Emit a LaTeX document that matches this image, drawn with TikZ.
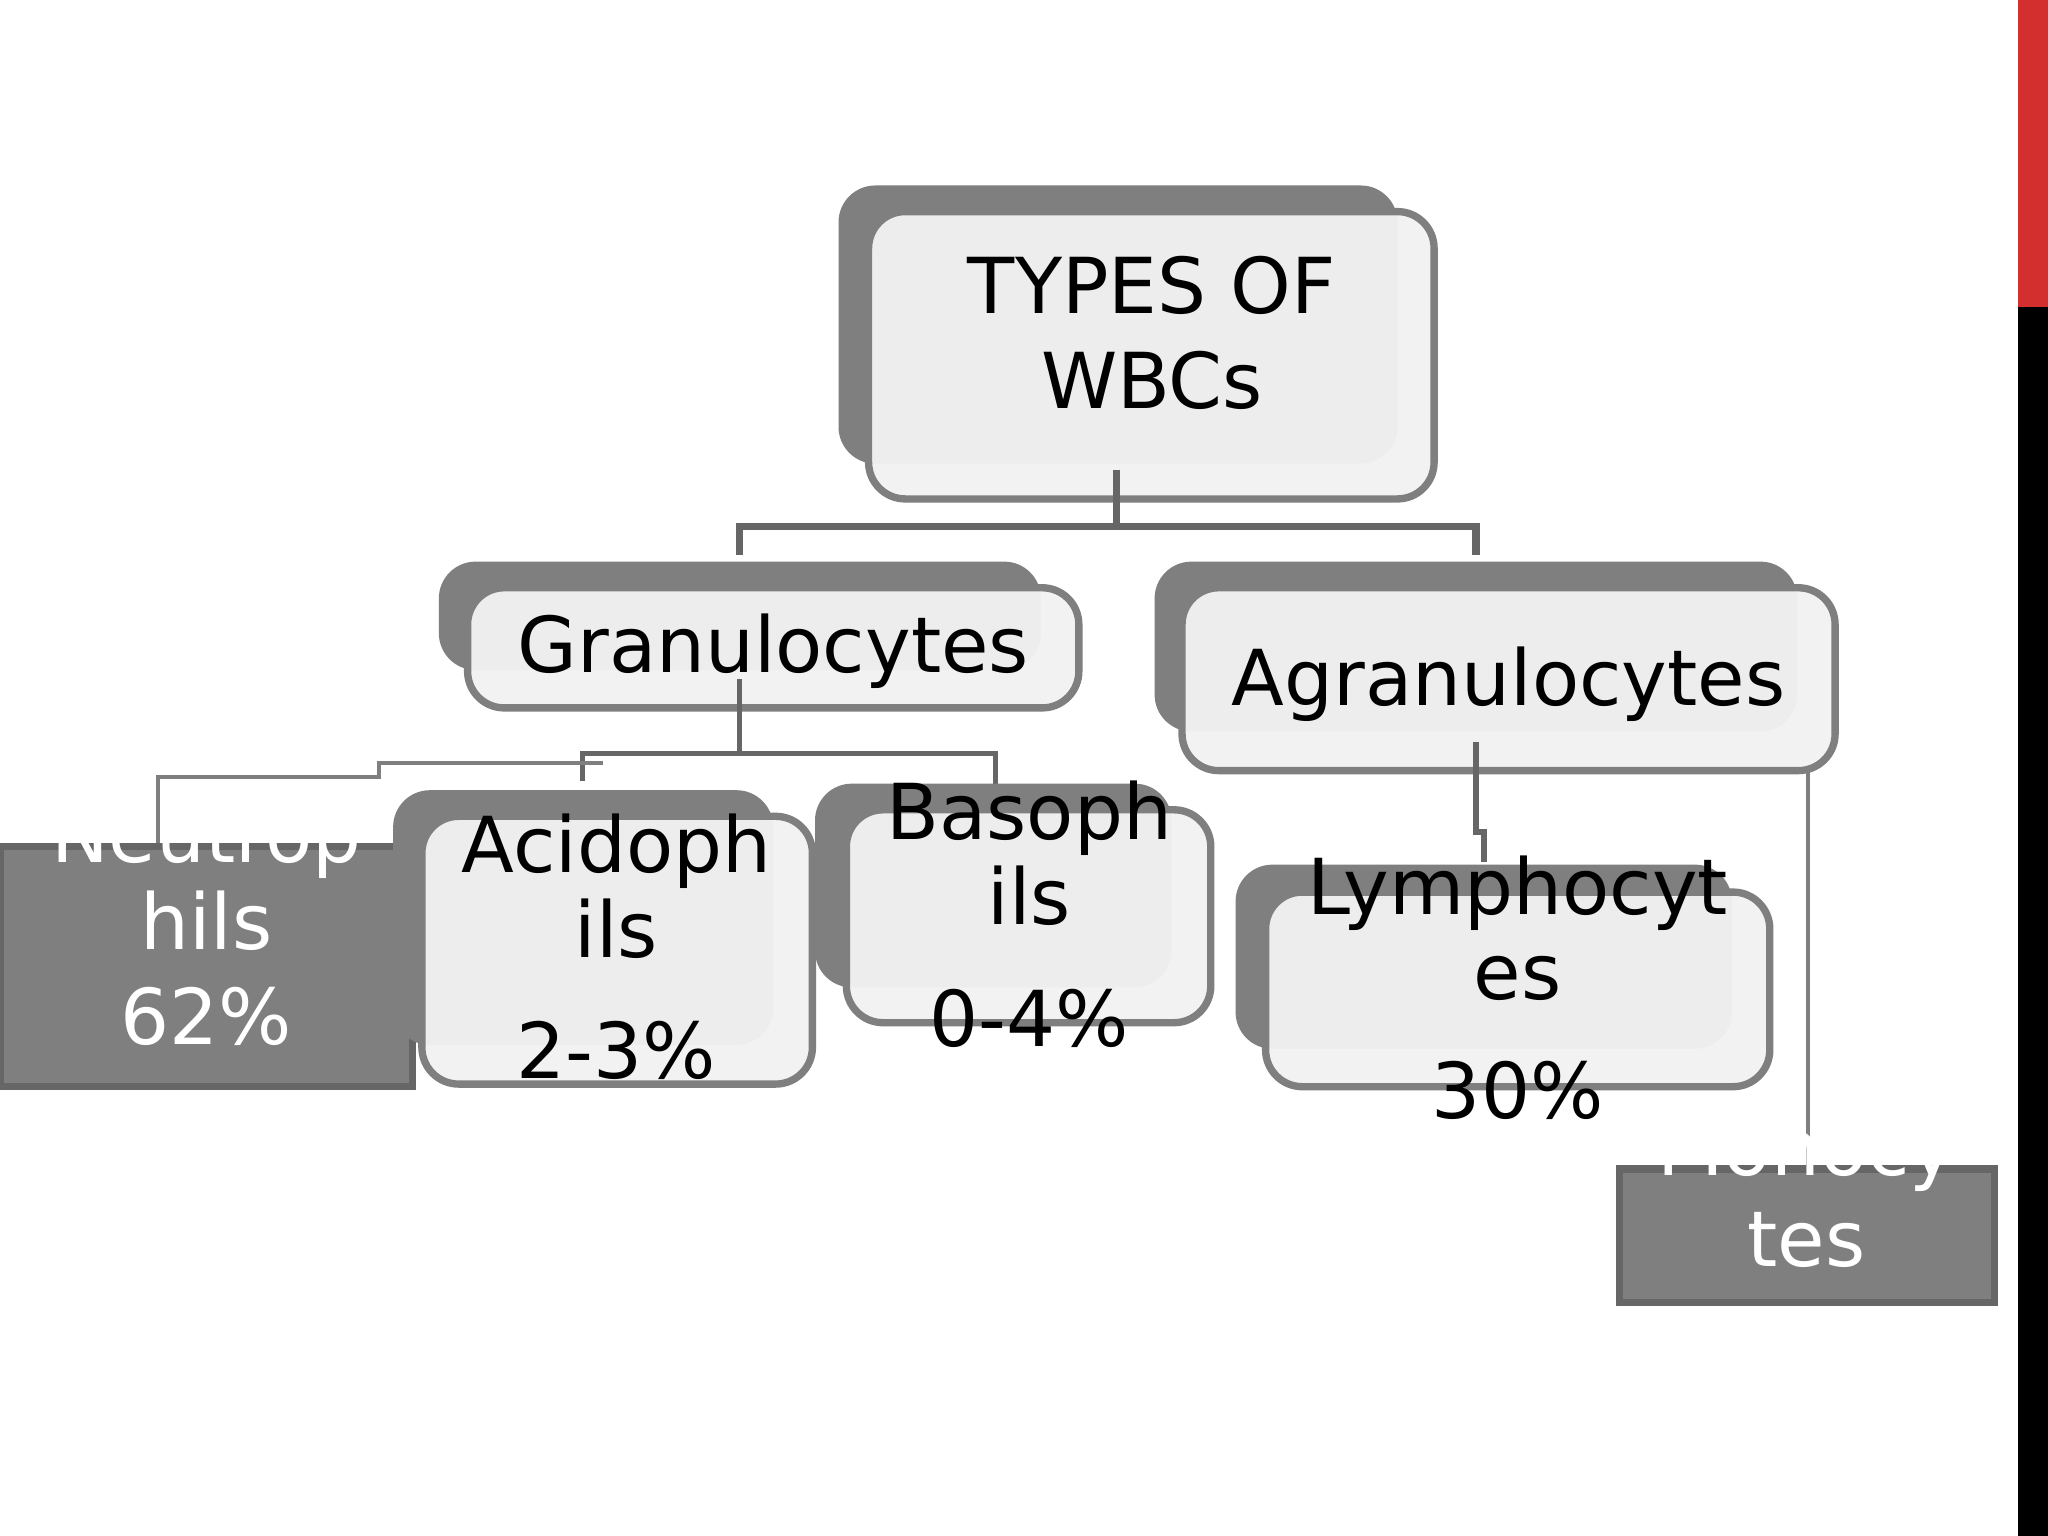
\documentclass[tikz,border=0pt]{standalone}
\usepackage{fontspec}
\setmainfont{DejaVu Sans}
\begin{document}
\begin{tikzpicture}[x=0.01cm,y=-0.01cm,
  shadowbox/.style={fill=gray50,draw=none,rounded corners=8pt},
  frontbox/.style={fill=boxfill,draw=gray50,line width=1.6pt,rounded corners=8pt},
  darkbox/.style={fill=gray50,draw=gray40,line width=1.6pt},
  conn/.style={draw=gray40,line width=1.6pt},
  thin/.style={draw=gray50,line width=0.8pt},
  lbl/.style={font=\fontsize{16.8}{19}\selectfont,inner sep=0pt,anchor=base},
  wlbl/.style={lbl,text=white}]
\definecolor{gray50}{HTML}{7F7F7F}
\definecolor{gray40}{HTML}{666666}
\definecolor{boxfill}{HTML}{F2F2F2}
\definecolor{redbar}{HTML}{D32F2F}
\useasboundingbox (0,0) rectangle (1568,1176);
\fill[white] (0,0) rectangle (1568,1176);
\fill[redbar] (1545,0) rectangle (1568,235);
\fill[black] (1545,235) rectangle (1568,1176);
% top
\fill[shadowbox] (642,142) rectangle (1070,355);
\draw[frontbox,fill opacity=0.96] (665,162) rectangle (1098,382);
\node[lbl] (t1) at (882,240) {TYPES OF};
\node[lbl] (t2) at (882,313) {WBCs};
% level connectors
\coordinate (c0) at (855,360);
\coordinate (c1) at (855,403);
\coordinate (cg) at (566,425);
\coordinate (ca) at (1130,425);
\draw[conn] (c0) -- (c1) -| (cg);
\draw[conn] (c1) -| (ca);
% granulocytes
\fill[shadowbox] (336,430) rectangle (797,513);
\draw[frontbox,fill opacity=0.96] (358,450) rectangle (826,542);
\node[lbl] (g) at (592,515) {Granulocytes};
% agranulocytes
\fill[shadowbox] (884,430) rectangle (1376,560);
\draw[frontbox,fill opacity=0.96] (905,450) rectangle (1405,590);
\node[lbl] (ag) at (1155,540) {Agranulocytes};
% gran connectors
\coordinate (g0) at (566,520);
\coordinate (g1) at (566,577);
\coordinate (ga) at (446,598);
\coordinate (gb) at (762,600);
\draw[conn,line width=1.2pt] (g0) -- (g1);
\draw[conn,line width=1.2pt] (g1) -| (ga);
\draw[conn,line width=1.2pt] (g1) -| (gb);
\coordinate (n0) at (462,584);
\coordinate (n1) at (290,584);
\coordinate (n2) at (290,595);
\coordinate (n3) at (121,595);
\coordinate (n4) at (121,648);
\draw[thin] (n0) -- (n1) -- (n2) -- (n3) -- (n4);
% neutrophils
\draw[darkbox] (0,648) rectangle (316,832);
\node[wlbl] (ne1) at (158,660) {Neutrop};
\node[wlbl] (ne2) at (158,727) {hils};
\node[wlbl] (ne3) at (158,800) {62\%};
% acidophils
\fill[shadowbox] (301,605) rectangle (592,800);
\draw[frontbox,fill opacity=0.96] (323,625) rectangle (622,830);
\node[lbl] (ac1) at (472,668) {Acidoph};
\node[lbl] (ac2) at (472,733) {ils};
\node[lbl] (ac3) at (472,826) {2-3\%};
% basophils
\fill[shadowbox] (624,600) rectangle (897,756);
\draw[frontbox,fill opacity=0.96] (648,620) rectangle (927,783);
\node[lbl] (ba1) at (788,643) {Basoph};
\node[lbl] (ba2) at (788,708) {ils};
\node[lbl] (ba3) at (788,801) {0-4\%};
% agran connectors
\coordinate (a0) at (1130,568);
\coordinate (a1) at (1130,637);
\coordinate (a2) at (1136,637);
\coordinate (a3) at (1136,660);
\draw[conn,line width=1.2pt] (a0) -- (a1) -- (a2) -- (a3);
\coordinate (m0) at (1384,590);
\coordinate (m1) at (1384,895);
\draw[thin] (m0) -- (m1);
% lymphocytes
\fill[shadowbox] (946,662) rectangle (1326,803);
\draw[frontbox,fill opacity=0.96] (969,683) rectangle (1355,832);
\node[lbl] (ly1) at (1162,700) {Lymphocyt};
\node[lbl] (ly2) at (1162,765) {es};
\node[lbl] (ly3) at (1162,856) {30\%};
% monocytes
\draw[darkbox] (1240,895) rectangle (1527,997);
\node[wlbl] (mo1) at (1383,900) {Monocy};
\node[wlbl] (mo2) at (1383,970) {tes};
\end{tikzpicture}
\end{document}
